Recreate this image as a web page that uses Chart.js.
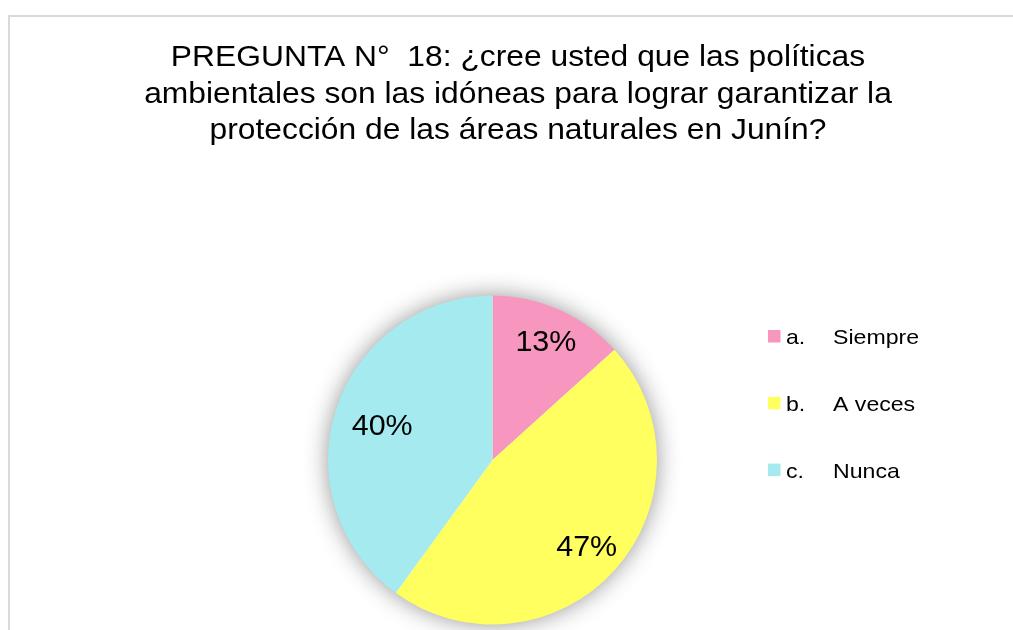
<!DOCTYPE html>
<html>
<head>
<meta charset="utf-8">
<script src="https://cdn.jsdelivr.net/npm/chart.js@4/dist/chart.umd.min.js"></script>
<style>
  html, body { margin: 0; padding: 0; background: #ffffff; }
  #wrap { position: relative; width: 1013px; height: 630px; overflow: hidden; }
  canvas { display: block; }
</style>
</head>
<body>
<div id="wrap"><canvas id="c" width="1013" height="630"></canvas></div>
<script>
// ---- data ----
const titleLines = [
  'PREGUNTA N°  18: ¿cree usted que las políticas',
  'ambientales son las idóneas para lograr garantizar la',
  'protección de las áreas naturales en Junín?'
];
const categoryLetters = ['a.', 'b.', 'c.'];
const categoryNames = ['Siempre', 'A veces', 'Nunca'];
const values = [13.3, 46.7, 40.0];
const colors = ['#F796BF', '#FFFF5F', '#A5EAEF'];

const FONT = "'Liberation Sans', Arial, Helvetica, sans-serif";

function stretchedText(ctx, text, x, y, sx) {
  ctx.save();
  ctx.translate(x, y);
  ctx.scale(sx, 1);
  ctx.fillText(text, 0, 0);
  ctx.restore();
}

const decorPlugin = {
  id: 'decor',
  beforeDraw(chart) {
    const ctx = chart.ctx;
    ctx.save();
    ctx.fillStyle = '#ffffff';
    ctx.fillRect(0, 0, chart.width, chart.height);
    // outer frame
    ctx.strokeStyle = '#d9d9d9';
    ctx.lineWidth = 2;
    ctx.strokeRect(9, 16, 1200, 800);
    // title
    ctx.fillStyle = '#000000';
    ctx.font = '30px ' + FONT;
    ctx.textAlign = 'center';
    ctx.textBaseline = 'alphabetic';
    titleLines.forEach((t, i) => stretchedText(ctx, t, 518, 66 + i * 36.5, 1.06));
    ctx.restore();
  },
  beforeDatasetsDraw(chart) {
    const arc = chart.getDatasetMeta(0).data[0];
    if (!arc) return;
    const ctx = chart.ctx;
    ctx.save();
    ctx.shadowColor = 'rgba(0,0,0,0.45)';
    ctx.shadowBlur = 24;
    ctx.shadowOffsetX = 0;
    ctx.shadowOffsetY = 0;
    ctx.fillStyle = '#ffffff';
    ctx.beginPath();
    ctx.arc(arc.x, arc.y, arc.outerRadius - 1, 0, Math.PI * 2);
    ctx.fill();
    ctx.restore();
  },
  afterDatasetsDraw(chart) {
    const ctx = chart.ctx;
    const meta = chart.getDatasetMeta(0);
    const data = chart.data.datasets[0].data;
    const total = data.reduce((a, b) => a + b, 0);
    const fr = [0.80, 0.77, 0.705];
    ctx.save();
    ctx.fillStyle = '#000000';
    ctx.font = '29px ' + FONT;
    ctx.textAlign = 'center';
    ctx.textBaseline = 'middle';
    meta.data.forEach((a, i) => {
      const mid = (a.startAngle + a.endAngle) / 2;
      const r = a.outerRadius * fr[i];
      const x = a.x + Math.cos(mid) * r;
      const y = a.y + Math.sin(mid) * r + 3;
      stretchedText(ctx, Math.round(data[i] / total * 100) + '%', x, y, 1.05);
    });
    // legend
    const labels = chart.data.labels;
    const bg = chart.data.datasets[0].backgroundColor;
    ctx.font = '21px ' + FONT;
    ctx.textAlign = 'left';
    ctx.textBaseline = 'alphabetic';
    labels.forEach((lab, i) => {
      const base = 344 + i * 66.8;
      ctx.fillStyle = bg[i];
      ctx.fillRect(768, base - 14, 12.5, 12.5);
      ctx.fillStyle = '#000000';
      stretchedText(ctx, categoryLetters[i], 786, base, 1.1);
      stretchedText(ctx, categoryNames[i], 833, base, 1.1);
    });
    ctx.restore();
  }
};

new Chart(document.getElementById('c'), {
  type: 'pie',
  data: {
    labels: categoryLetters.map((l, i) => l + ' ' + categoryNames[i]),
    datasets: [{
      data: values,
      backgroundColor: colors,
      borderWidth: 0,
      hoverOffset: 0
    }]
  },
  options: {
    responsive: false,
    animation: false,
    devicePixelRatio: 1,
    layout: { padding: { left: 328, right: 356, top: 295.5, bottom: 5.5 } },
    plugins: {
      legend: { display: false },
      title: { display: false },
      tooltip: { enabled: false }
    }
  },
  plugins: [decorPlugin]
});
</script>
</body>
</html>
